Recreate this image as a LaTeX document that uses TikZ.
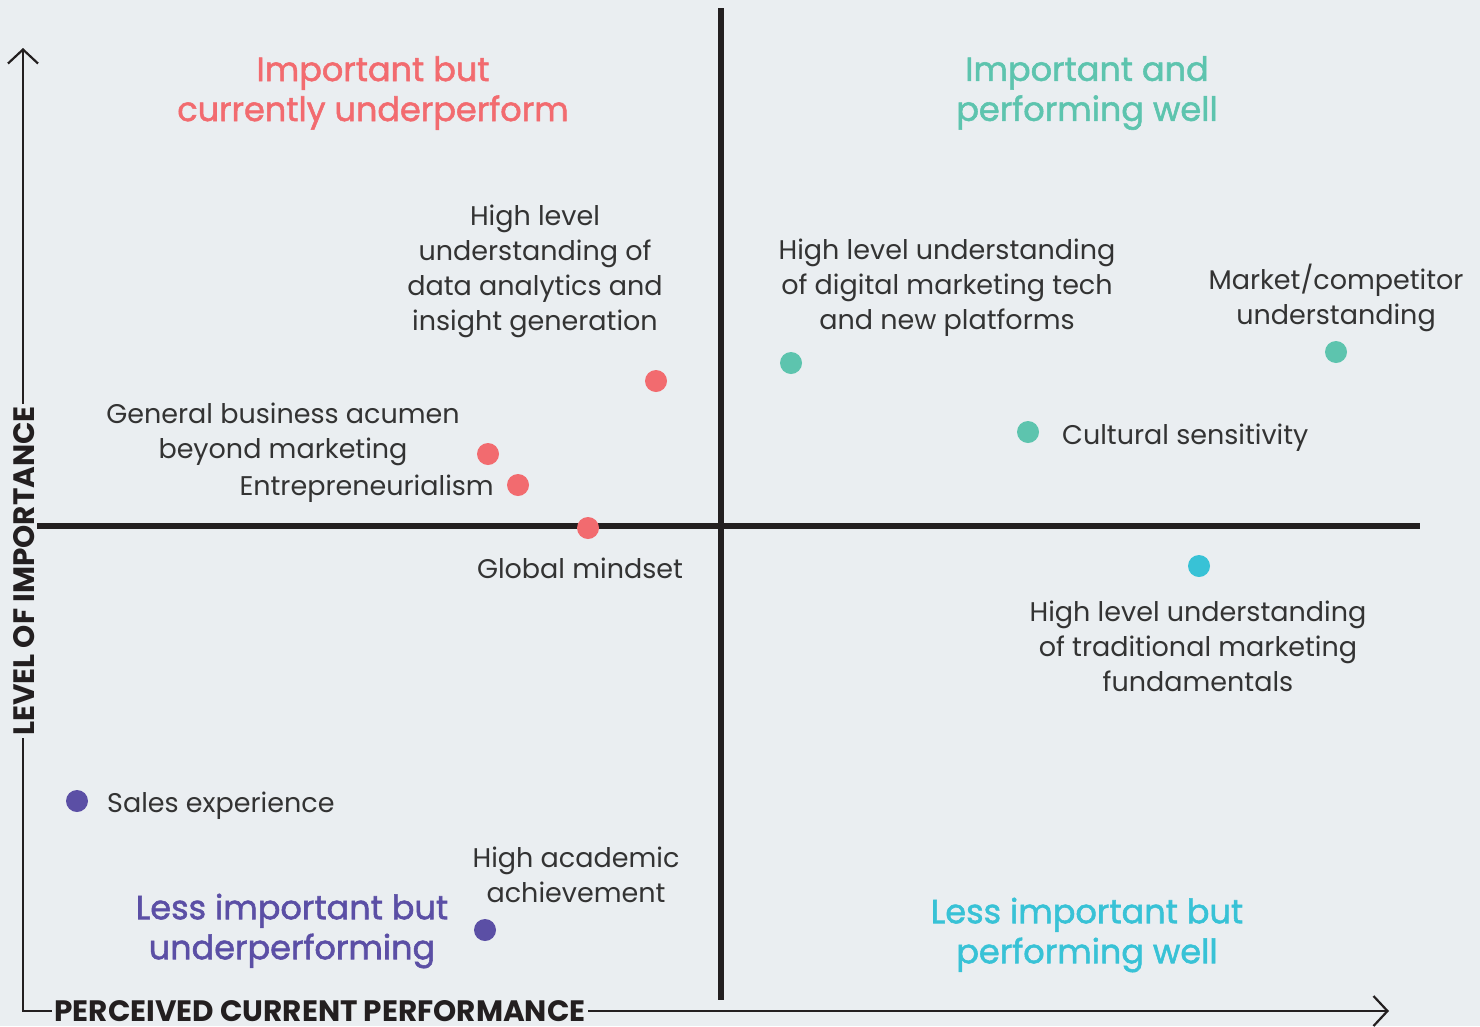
\documentclass[tikz,border=0pt]{standalone}
\usepackage{fontspec}
\setmainfont{Poppins}
\usetikzlibrary{arrows.meta}
\definecolor{bg}{HTML}{EAEEF1}
\definecolor{cred}{HTML}{F26B6F}
\definecolor{cgreen}{HTML}{5DC4AE}
\definecolor{ccyan}{HTML}{38C2D6}
\definecolor{cpurple}{HTML}{5B4FA5}
\definecolor{ctext}{HTML}{333333}
\definecolor{cline}{HTML}{231F20}
\newfontfamily\ttlfont[FakeBold=1.6]{Poppins}
\tikzset{
  dot/.style={circle,fill=#1,minimum size=22pt,inner sep=0pt},
  lbl/.style={text=ctext,align=center,inner sep=0pt,font=\fontsize{27}{35}\selectfont},
  ttl/.style={text=#1,align=center,inner sep=0pt,font=\ttlfont\fontsize{33.5}{40}\selectfont},
  axlbl/.style={text=cline,fill=bg,inner sep=2pt,font=\bfseries\fontsize{29.5}{30}\selectfont},
  thick axis/.style={draw=cline,line width=6pt},
  thin axis/.style={draw=cline,line width=2.2pt},
}
\begin{document}
\begin{tikzpicture}[x=1pt,y=-1pt]
\fill[bg] (0,0) rectangle (1480,1026);
\useasboundingbox (0,0) rectangle (1480,1026);
% coordinates
\coordinate (ytop) at (23,48);
\coordinate (corner) at (23,1011);
\coordinate (xend) at (1389,1011);
\coordinate (vtop) at (721,8);
\coordinate (vbot) at (721,1000);
\coordinate (hl) at (33,526);
\coordinate (hr) at (1420,526);
% thick quadrant lines
\draw[thick axis] (vtop) -- (vbot);
\draw[thick axis] (hl) -- (hr);
% axes
\draw[thin axis,{Straight Barb[length=14pt,width=30pt]}-{Straight Barb[length=14pt,width=30pt]}] (ytop) -- (corner) -- (xend);
\node[axlbl,rotate=90] (ylab) at (24,571) {LEVEL OF IMPORTANCE};
\node[axlbl] (xlab) at (320,1011) {PERCEIVED CURRENT PERFORMANCE};
% titles
\node[ttl=cred] (t1) at (373,93) {Important but\\currently underperform};
\node[ttl=cgreen] (t2) at (1087,93) {Important and\\performing well};
\node[ttl=cpurple] (t3) at (292,931) {Less important but\\underperforming};
\node[ttl=ccyan] (t4) at (1087,935) {Less important but\\performing well};
% dots
\node[dot=cred] (d1) at (656,381) {};
\node[dot=cred] (d2) at (488,454) {};
\node[dot=cred] (d3) at (518,485) {};
\node[dot=cred] (d4) at (588,528) {};
\node[dot=cgreen] (d5) at (791,363) {};
\node[dot=cgreen] (d6) at (1336,352) {};
\node[dot=cgreen] (d7) at (1028,432) {};
\node[dot=ccyan] (d8) at (1199,566) {};
\node[dot=cpurple] (d9) at (77,801) {};
\node[dot=cpurple] (d10) at (485,930) {};
% labels
\node[lbl] (l1) at (535,271) {High level\\understanding of\\data analytics and\\insight generation};
\node[lbl] (l2) at (947,288) {High level understanding\\of digital marketing tech\\and new platforms};
\node[lbl] (l3) at (1336,298) {Market/competitor\\understanding};
\node[lbl,anchor=west] (l4) at (1062,438) {Cultural sensitivity};
\node[lbl] (l5) at (283,434) {General business acumen\\beyond marketing};
\node[lbl,anchor=east] (l6) at (494,489) {Entrepreneurialism};
\node[lbl] (l7) at (580,568) {Global mindset};
\node[lbl] (l8) at (1198,646) {High level understanding\\of traditional marketing\\fundamentals};
\node[lbl,anchor=west] (l9) at (107,806) {Sales experience};
\node[lbl] (l10) at (576,875) {High academic\\achievement};
\end{tikzpicture}
\end{document}
